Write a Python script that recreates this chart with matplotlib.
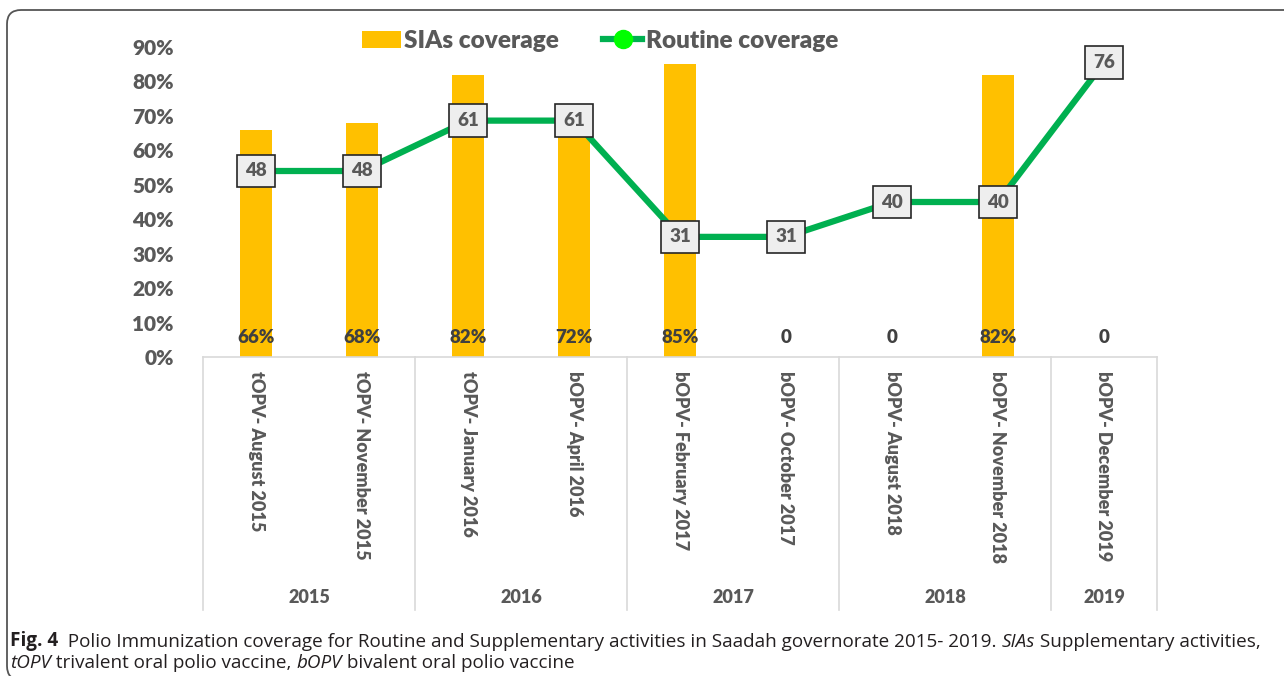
import numpy as np
import matplotlib.pyplot as plt
import matplotlib.transforms as mtransforms
from matplotlib.patches import FancyBboxPatch, Patch
from matplotlib.lines import Line2D

plt.rcParams['font.family'] = ['Lato', 'DejaVu Sans']

# == datos ==
campanas = ["tOPV- August 2015", "tOPV- November 2015", "tOPV- January 2016",
            "bOPV- April 2016", "bOPV- February 2017", "bOPV- October 2017",
            "bOPV- August 2018", "bOPV- November 2018", "bOPV- December 2019"]
sias = [0.66, 0.68, 0.82, 0.72, 0.85, 0, 0, 0.82, 0]
sias_txt = ["66%", "68%", "82%", "72%", "85%", "0", "0", "82%", "0"]
rutina = [48, 48, 61, 61, 31, 31, 40, 40, 76]
anios = ["2015", "2016", "2017", "2018", "2019"]
n_por_anio = [2, 2, 2, 2, 1]

gris = "#595959"
naranja = "#FFC000"
verde = "#00B050"
peso = "heavy"

W, H = 1284, 676
fig = plt.figure(figsize=(W / 100, H / 100), dpi=100)

# marco redondeado (en pixeles)
marco = FancyBboxPatch((7, -4), 1400, H - 10 + 4, boxstyle="round,pad=0,rounding_size=14",
                       transform=mtransforms.IdentityTransform(), fill=False,
                       edgecolor="#555555", lw=1.3)
fig.patches.append(marco)

x0, x1 = 203, 1157
y0, y1 = 357, 47
ax = fig.add_axes([x0 / W, 1 - y0 / H, (x1 - x0) / W, (y0 - y1) / H])
x = np.arange(len(campanas))
ax.bar(x, sias, width=0.31, color=naranja, zorder=2)
ax.set_xlim(-0.5, len(campanas) - 0.5)
ax.set_ylim(0, 0.9)
ax.set_yticks(np.arange(0, 0.91, 0.1))
ax.set_yticklabels([f"{int(round(v * 100))}%" for v in np.arange(0, 0.91, 0.1)],
                   fontsize=15, fontweight=peso, color=gris)
ax.tick_params(axis="y", length=0, pad=21)
ax.set_xticks([])
for s in ["top", "right", "left"]:
    ax.spines[s].set_visible(False)
ax.spines["bottom"].set_color("#D9D9D9")
ax.spines["bottom"].set_linewidth(1.2)

for xi, t in zip(x, sias_txt):
    ax.text(xi, 0.058, t, ha="center", va="center", fontsize=13.5, fontweight=peso,
            color="#404040", zorder=5)

# eje x multinivel
trans = mtransforms.blended_transform_factory(ax.transData, ax.transAxes)
for xi, t in zip(x, campanas):
    ax.text(xi, -0.045, t, rotation=-90, ha="center", va="top", fontsize=13,
            fontweight=peso, color=gris, transform=trans)
bordes = np.concatenate([[0], np.cumsum(n_por_anio)]) - 0.5
for b in bordes:
    ax.plot([b, b], [0, -0.815], color="#D9D9D9", lw=1.2, transform=trans, clip_on=False)
for i, a in enumerate(anios):
    ax.text((bordes[i] + bordes[i + 1]) / 2, -0.775, a, ha="center", va="center",
            fontsize=13, fontweight=peso, color=gris, transform=trans)

# linea de rutina en eje secundario
ax2 = ax.twinx()
ax2.set_ylim(0, 80)
ax2.axis("off")
ax2.plot(x, rutina, color=verde, lw=4.5, marker="o", markersize=10,
         markerfacecolor="#00FF00", markeredgecolor="#00FF00", zorder=3)
for xi, v in zip(x, rutina):
    ax2.text(xi, v, str(v), ha="center", va="center", fontsize=13.5, fontweight=peso,
             color=gris, zorder=6,
             bbox=dict(boxstyle="square,pad=0.42", facecolor="#EEEEEE", edgecolor="#262626", lw=1.2))

# leyenda
handles = [Patch(facecolor=naranja, label="SIAs coverage"),
           Line2D([0], [0], color=verde, lw=4.5, marker="o", markersize=13,
                  markerfacecolor="#00FF00", markeredgecolor="#00FF00", label="Routine coverage")]
leg = fig.legend(handles=handles, loc="center", bbox_to_anchor=(600 / W, 1 - 41 / H), ncol=2,
                 frameon=False, prop={"weight": peso, "size": 17.5}, handlelength=1.6,
                 handletextpad=0.15, columnspacing=1.8)
for t in leg.get_texts():
    t.set_color(gris)

# pie de figura
cap = dict(fontsize=13.6, color="#231F20", family=["Open Sans", "DejaVu Sans"])
t1 = fig.text(10 / W, 1 - 646 / H, "Fig. 4", fontweight="bold", va="baseline", **cap)
partes = [("  Polio Immunization coverage for Routine and Supplementary activities in Saadah governorate 2015- 2019. ", "normal"),
          ("SIAs", "italic"), (" Supplementary activities,", "normal")]
anterior = t1
for txt, estilo in partes:
    anterior = ax.annotate(txt, xy=(1, 0), xycoords=anterior, va="bottom", ha="left",
                           fontstyle=estilo, annotation_clip=False, **cap)

t2 = fig.text(10 / W, 1 - 668 / H, "tOPV", fontstyle="italic", va="baseline", **cap)
partes2 = [(" trivalent oral polio vaccine, ", "normal"), ("bOPV", "italic"),
           (" bivalent oral polio vaccine", "normal")]
anterior = t2
for txt, estilo in partes2:
    anterior = ax.annotate(txt, xy=(1, 0), xycoords=anterior, va="bottom", ha="left",
                           fontstyle=estilo, annotation_clip=False, **cap)

fig.savefig("out.png", dpi=100)
